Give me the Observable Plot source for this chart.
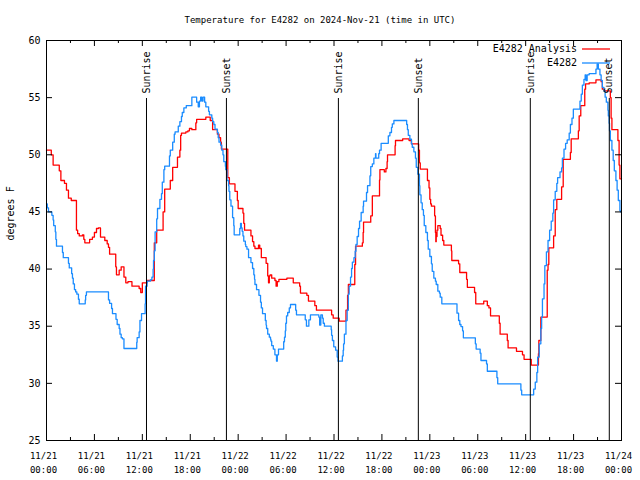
<!DOCTYPE html>
<html><head><meta charset="utf-8">
<script src="https://cdn.jsdelivr.net/npm/d3@7"></script>
<script src="https://cdn.jsdelivr.net/npm/@observablehq/plot@0.6"></script>
<style>body{margin:0;background:#fff}</style>
</head><body><div id="chart"></div>
<script>
const chartTitle = "Temperature for E4282 on 2024-Nov-21 (time in UTC)";
const yLabel = "degrees F";
const seriesNames = ["E4282 Analysis", "E4282"];
const seriesColors = ["#ff0000", "#1a8cff"];
const startTime = Date.UTC(2024, 10, 21, 0, 0);
const yTicks = [25, 30, 35, 40, 45, 50, 55, 60];
const xTickHours = [0, 6, 12, 18, 24, 30, 36, 42, 48, 54, 60, 66, 72];
const xMinorHours = [3, 9, 15, 21, 27, 33, 39, 45, 51, 57, 63, 69];
const sunLabels = ["Sunrise", "Sunset", "Sunrise", "Sunset", "Sunrise", "Sunset"];
const sunHours = [12.52, 22.53, 36.55, 46.56, 60.58, 70.47];

// [hours since 11/21 00:00 UTC, degrees F]
const analysis = [
[0,50.4],[0.6,50.0],[0.83,49.1],[1.6,48.6],[1.8,47.75],[2.25,47.5],[2.5,46.9],[2.75,46.2],[3.1,46.0],[3.75,43.4],
[3.9,43.1],[4.1,42.9],[4.5,43.0],[4.67,42.6],[4.8,42.3],[5.4,42.6],[5.75,42.8],[6.0,43.2],[6.26,43.55],[6.5,43.6],
[6.76,42.8],[7.3,42.5],[7.6,42.2],[7.76,41.9],[7.9,41.3],[8.67,40.2],[8.76,39.5],[9.1,39.9],[9.35,40.2],[9.7,39.3],
[9.93,38.8],[10.2,38.9],[10.7,38.5],[11.6,38.3],[11.8,37.95],[12.0,38.8],[12.6,39.0],[13.5,42.3],[13.8,43.4],[14.6,45.0],
[14.8,47.0],[15.5,47.75],[15.8,48.9],[16.4,49.8],[16.7,50.4],[16.8,51.7],[16.9,51.9],[17.45,52.0],[17.7,52.1],[17.9,52.3],
[18.2,52.2],[18.7,52.8],[18.8,53.1],[19.95,53.3],[20.5,53.0],[20.8,52.2],[21.4,51.8],[21.6,51.5],[21.8,51.1],[21.9,50.5],
[22.7,48.0],[22.9,47.45],[23.6,46.8],[23.9,46.0],[24.0,45.3],[24.6,44.9],[24.7,44.0],[24.8,43.4],[25.6,42.9],[25.8,42.4],
[25.96,42.0],[26.1,41.8],[26.55,42.1],[26.7,41.8],[26.9,41.0],[27.5,40.5],[27.7,39.4],[27.8,38.8],[27.9,39.4],[28.0,39.5],
[28.2,39.2],[28.6,39.0],[28.75,38.5],[28.9,38.9],[29.1,39.1],[30.1,39.2],[30.9,38.8],[31.7,38.5],[31.8,37.9],[32.6,37.7],
[32.8,37.2],[33.6,36.8],[33.8,36.4],[35.7,36.0],[35.9,35.7],[36.65,35.45],[37.5,36.4],[37.7,37.7],[37.8,38.65],[38.6,40.4],
[38.7,42.0],[39.55,42.3],[39.65,43.2],[39.7,44.1],[40.6,44.66],[40.8,46.4],[41.7,47.8],[41.75,48.7],[42.3,48.5],[42.5,48.8],
[42.65,49.4],[42.7,50.0],[43.65,50.8],[43.7,51.25],[44.6,51.4],[45.4,51.25],[45.7,50.95],[46.6,50.4],[46.7,49.3],[46.8,48.75],
[47.7,47.75],[47.9,47.1],[48.0,46.1],[48.1,45.7],[48.2,45.5],[48.6,44.66],[48.7,43.2],[48.75,42.4],[48.8,42.85],[48.9,43.4],
[49.0,43.8],[49.3,43.55],[49.4,42.96],[49.6,42.5],[49.75,42.1],[50.7,41.6],[50.75,40.75],[51.6,40.46],[51.75,39.7],[52.6,39.1],
[52.7,38.4],[53.6,37.95],[53.75,36.96],[54.75,37.2],[55.2,36.8],[55.4,36.6],[55.6,35.9],[56.7,35.26],[56.8,34.3],[57.7,33.75],
[57.8,33.1],[58.85,32.8],[59.6,32.5],[59.8,32.1],[60.7,31.6],[61.6,32.6],[61.65,33.75],[61.9,35.8],[62.7,39.9],[62.8,40.4],
[62.9,41.86],[63.5,42.9],[63.7,45.2],[63.9,46.1],[64.5,47.2],[64.7,49.6],[65.6,50.2],[65.7,51.4],[66.6,52.1],[66.7,53.4],
[66.9,54.3],[67.4,55.74],[67.5,56.2],[67.95,56.3],[68.8,56.56],[69.45,56.4],[69.6,55.74],[69.8,55.6],[70.6,55.0],[70.7,53.2],
[70.8,52.2],[71.55,51.25],[71.7,49.1],[71.8,47.9],[72,47.9]
];
const observed = [
[0,45.7],[0.1,45.36],[0.25,45.0],[0.67,44.7],[0.83,44.3],[0.9,43.8],[1.1,43.26],[1.17,42.6],[1.25,42.0],[2.0,41.45],
[2.1,41.0],[2.75,40.5],[2.85,40.1],[3.15,39.6],[3.25,39.2],[3.35,38.7],[3.5,38.2],[3.65,38.0],[3.8,37.8],[4.0,37.36],
[4.1,36.96],[4.85,37.3],[4.9,37.7],[5.0,38.0],[7.76,37.3],[7.9,37.0],[8.15,36.55],[8.26,36.1],[8.7,35.6],[8.85,35.15],
[9.1,34.8],[9.2,34.3],[9.35,34.0],[9.5,33.9],[9.7,33.05],[11.3,33.6],[11.35,34.0],[11.6,34.5],[11.7,35.5],[11.9,36.1],
[12.35,36.96],[12.4,38.5],[12.6,38.94],[13.0,39.05],[13.2,39.3],[13.35,40.0],[13.4,40.75],[13.5,41.6],[13.6,43.26],[13.8,44.4],
[13.9,45.3],[14.2,46.1],[14.4,46.6],[14.5,47.6],[14.7,48.7],[14.8,49.0],[15.4,49.9],[15.5,50.4],[15.8,51.1],[16.0,51.8],
[16.1,52.0],[16.5,52.5],[16.7,52.9],[16.9,53.35],[17.0,53.7],[17.2,54.1],[17.5,54.3],[18.2,55.04],[18.8,54.6],[19.0,54.2],
[19.15,54.7],[19.3,55.04],[19.45,54.7],[19.6,55.04],[19.8,54.6],[19.95,54.2],[20.3,53.8],[20.4,53.5],[20.7,53.2],[20.8,52.9],
[20.95,52.65],[21.1,52.24],[21.4,51.95],[21.5,51.5],[21.6,51.1],[21.8,50.84],[21.95,50.4],[22.1,50.0],[22.2,49.4],[22.4,49.0],
[22.45,48.7],[22.6,47.75],[22.8,47.3],[22.85,46.8],[22.95,46.06],[23.1,45.5],[23.3,44.5],[23.45,43.8],[23.5,43.0],[24.2,43.55],
[24.3,44.0],[24.4,43.6],[24.5,43.3],[24.6,42.9],[24.7,42.44],[24.9,42.15],[24.95,41.97],[25.1,41.74],[25.3,41.0],[25.6,40.57],
[25.8,40.05],[25.96,39.5],[26.05,39.1],[26.1,38.65],[26.3,38.2],[26.6,37.7],[26.8,37.1],[26.9,36.6],[27.05,36.1],[27.4,35.5],
[27.5,35.1],[27.55,34.8],[27.7,34.3],[27.9,34.04],[28.05,33.86],[28.1,33.7],[28.2,33.3],[28.4,33.0],[28.6,32.5],[28.8,31.94],
[28.9,32.5],[29.05,33.0],[29.7,33.64],[29.8,34.04],[29.9,34.6],[29.96,35.26],[30.05,35.9],[30.2,36.2],[30.4,36.6],[30.55,36.9],
[31.2,36.4],[31.3,36.0],[32.4,35.56],[32.55,35.0],[32.85,35.56],[33.05,36.0],[34.1,35.8],[34.2,35.1],[34.35,36.0],[34.55,35.7],
[34.65,35.26],[34.8,35.0],[35.65,34.7],[35.7,34.2],[35.8,33.75],[35.97,33.2],[36.2,32.9],[36.4,32.3],[36.5,31.94],[37.05,32.4],
[37.15,32.9],[37.2,33.46],[37.3,34.3],[37.5,35.5],[37.65,36.4],[37.8,37.8],[37.9,38.5],[38.07,39.3],[38.2,40.05],[38.3,40.6],
[38.5,41.0],[38.65,41.56],[38.75,42.15],[38.9,42.85],[39.07,43.55],[39.2,44.2],[39.4,44.95],[39.65,45.5],[39.7,45.94],[40.07,46.7],
[40.2,47.3],[40.5,48.16],[40.6,48.97],[40.8,49.2],[40.99,49.7],[41.2,50.1],[41.25,49.7],[41.6,50.1],[41.7,50.4],[41.9,51.0],
[42.8,51.66],[43.0,51.95],[43.2,52.4],[43.3,52.7],[43.5,53.0],[45.1,52.65],[45.2,52.2],[45.3,51.7],[45.5,51.36],[45.7,50.96],
[45.8,50.66],[46.0,50.26],[46.2,49.7],[46.3,48.9],[46.5,48.3],[46.7,47.3],[46.75,46.5],[46.9,45.8],[47.05,45.2],[47.2,44.7],
[47.3,43.8],[47.5,43.2],[47.7,42.5],[47.8,41.74],[48.0,41.1],[48.2,40.46],[48.3,39.8],[48.5,39.2],[48.7,38.94],[48.8,38.65],
[49.0,38.07],[49.2,37.9],[49.3,37.54],[49.5,36.96],[51.4,36.14],[51.6,35.5],[51.75,35.15],[51.9,34.97],[52.1,34.6],[52.2,33.98],
[53.7,33.46],[53.8,33.0],[54.3,32.64],[54.4,32.0],[55.1,31.7],[55.2,31.06],[56.4,30.5],[56.5,29.96],[59.4,29.4],[59.5,29.0],
[61.0,29.5],[61.2,30.1],[61.4,30.95],[61.5,32.3],[61.7,33.46],[61.9,34.8],[62.0,35.8],[62.1,37.4],[62.3,38.7],[62.4,40.3],
[62.6,41.5],[62.8,42.5],[63.0,43.4],[63.2,44.2],[63.4,44.9],[63.5,46.06],[63.7,46.8],[63.9,47.5],[64.0,48.0],[64.3,48.5],
[64.5,48.86],[64.6,49.7],[64.8,50.5],[65.0,51.0],[65.2,51.3],[65.45,51.9],[65.6,52.65],[65.8,53.2],[65.97,53.99],[66.8,54.7],
[66.96,55.3],[67.1,56.1],[67.3,56.6],[67.45,57.0],[67.55,56.5],[67.7,57.0],[67.95,57.1],[68.8,57.5],[68.95,57.96],[69.1,57.5],
[69.3,57.0],[69.45,56.5],[69.6,55.9],[69.8,55.56],[69.95,55.04],[70.1,54.6],[70.3,53.9],[70.35,53.4],[70.45,52.76],[70.5,52.1],
[70.6,51.25],[70.8,50.4],[70.96,49.5],[71.1,48.6],[71.3,47.75],[71.45,46.9],[71.6,46.0],[71.8,45.1],[71.9,45.0],[72,45.0]
];

const toDate = h => new Date(startTime + h * 3600e3);
const toRows = arr => arr.map(([h, v]) => ({date: toDate(h), temp: v}));
const analysisRows = toRows(analysis);
const observedRows = toRows(observed);
const sunRows = sunHours.map((h, i) => ({date: toDate(h), label: sunLabels[i]}));
const xTicks = xTickHours.map(toDate);
const xMinor = xMinorHours.map(toDate);
const fmt = d3.utcFormat("%m/%d\n%H:%M");

const W = 640, H = 480, mL = 46, mR = 19, mT = 40, mB = 40;
const frameW = W - mL - mR, frameH = H - mT - mB;
const mono = "'DejaVu Sans Mono', 'Liberation Mono', monospace";

const chart = Plot.plot({
  width: W, height: H,
  marginLeft: mL, marginRight: mR, marginTop: mT, marginBottom: mB,
  style: {fontFamily: mono, fontSize: "10px", background: "#fff", color: "#000"},
  x: {type: "utc", domain: [toDate(0), toDate(72)], axis: null},
  y: {domain: [25, 60]},
  marks: [
    Plot.line(analysisRows, {x: "date", y: "temp", stroke: seriesColors[0], strokeWidth: 1.3, curve: "step-after"}),
    Plot.line(observedRows, {x: "date", y: "temp", stroke: seriesColors[1], strokeWidth: 1.3, curve: "step-after"}),
    Plot.ruleX(sunRows, {x: "date", stroke: "#000", strokeWidth: 1, insetTop: 58}),
    Plot.text(sunRows, {x: "date", text: "label", frameAnchor: "top", dy: 53, rotate: -90, textAnchor: "start", lineAnchor: "middle", fontSize: 10, fill: "#000"}),
    Plot.frame({stroke: "#000", strokeWidth: 1}),
    Plot.tickY(yTicks, {y: d => d, insetRight: frameW - 6, stroke: "#000"}),
    Plot.tickY(yTicks, {y: d => d, insetLeft: frameW - 6, stroke: "#000"}),
    Plot.tickX(xTicks, {x: d => d, insetTop: frameH - 6, stroke: "#000"}),
    Plot.tickX(xTicks, {x: d => d, insetBottom: frameH - 6, stroke: "#000"}),
    Plot.tickX(xMinor, {x: d => d, insetTop: frameH - 3, stroke: "#000"}),
    Plot.tickX(xMinor, {x: d => d, insetBottom: frameH - 3, stroke: "#000"}),
    Plot.axisY({ticks: yTicks, tickSize: 0, tickPadding: 6, fontSize: 10, label: null}),
    Plot.text(xTicks, {x: d => d, text: d => fmt(d), frameAnchor: "bottom", dx: -3, dy: 9, lineAnchor: "top", lineHeight: 1.55, fontSize: 9, fill: "#000"}),
    Plot.text([chartTitle], {text: d => d, frameAnchor: "top", dx: -14, dy: -24, fontSize: 9, fill: "#000"}),
    Plot.text([yLabel], {text: d => d, frameAnchor: "left", dx: -36, rotate: -90, fontSize: 10, fill: "#000"})
  ]
});
document.getElementById("chart").appendChild(chart);

// legend: labels and sample lines in the top-right corner of the frame
const svg = d3.select(chart);
const legend = svg.append("g").attr("font-family", mono).attr("font-size", 10);
seriesNames.forEach((name, i) => {
  const y = mT + 9 + i * 14;
  legend.append("text").attr("x", 577).attr("y", y).attr("dy", "0.32em").attr("text-anchor", "end").attr("fill", "#000").text(name);
  legend.append("line").attr("x1", 582).attr("x2", 610).attr("y1", y).attr("y2", y).attr("stroke", seriesColors[i]).attr("stroke-width", 1.3);
});
</script>
</body></html>
